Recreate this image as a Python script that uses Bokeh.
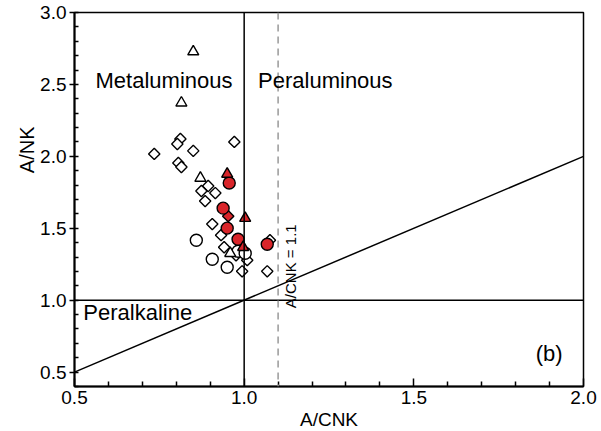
import math
from bokeh.plotting import figure
from bokeh.models import Span, FixedTicker, PrintfTickFormatter, Label, Title
from bokeh.embed import file_html
from bokeh.resources import INLINE

FONT = "Liberation Sans"

# Open diamonds
dia_x = [0.735, 0.812, 0.803, 0.850, 0.971, 0.806, 0.815, 0.894, 0.874, 0.915,
         0.885, 0.906, 0.932, 0.941, 0.976, 1.009, 0.994, 1.068, 1.076]
dia_y = [2.017, 2.121, 2.086, 2.038, 2.100, 1.954, 1.926, 1.794, 1.759, 1.745,
         1.689, 1.529, 1.452, 1.368, 1.312, 1.278, 1.201, 1.201, 1.417]
# Open circles
cir_x = [0.859, 0.906, 0.950, 0.982, 1.003]
cir_y = [1.417, 1.285, 1.229, 1.340, 1.326]
# Open triangles
tri_x = [0.850, 0.815, 0.871, 0.959]
tri_y = [2.728, 2.372, 1.849, 1.326]
# Filled (red) circles
rcir_x = [0.956, 0.938, 0.950, 0.982, 1.068]
rcir_y = [1.815, 1.640, 1.501, 1.424, 1.389]
# Filled (red) triangles
rtri_x = [0.950, 1.003, 0.997]
rtri_y = [1.877, 1.570, 1.368]
# Filled (red) diamond
rdia_x = [0.953]
rdia_y = [1.584]

x_ticks = [0.5, 1.0, 1.5, 2.0]
y_ticks = [0.5, 1.0, 1.5, 2.0, 2.5, 3.0]

RED = "#d9252a"

p = figure(width=601, height=431, x_range=(0.5, 2.0), y_range=(0.4, 3.0),
           output_backend="svg", toolbar_location=None,
           min_border_left=74, min_border_right=18, min_border_top=12,
           min_border_bottom=45)
p.grid.visible = False
p.outline_line_color = "black"
p.outline_line_width = 1.5
p.background_fill_color = "white"
p.border_fill_color = "white"

# Reference lines
p.line([0.5, 2.0], [0.5, 2.0], line_color="black", line_width=1.5)
p.add_layout(Span(location=1.0, dimension="height", line_color="black", line_width=1.5))
p.add_layout(Span(location=1.0, dimension="width", line_color="black", line_width=1.5))
p.add_layout(Span(location=1.1, dimension="height", line_color="#999999",
                  line_width=1.5, line_dash="7 5"))

# Data
p.scatter(dia_x, dia_y, marker="square", angle=math.pi / 4, size=8,
          fill_color="white", line_color="black", line_width=1.4)
p.scatter(cir_x, cir_y, marker="circle", size=12,
          fill_color="white", line_color="black", line_width=1.4)
p.scatter(tri_x, tri_y, marker="triangle", size=11,
          fill_color="white", line_color="black", line_width=1.4)
p.scatter(rdia_x, rdia_y, marker="square", angle=math.pi / 4, size=8,
          fill_color=RED, line_color="black", line_width=1.4)
p.scatter(rcir_x, rcir_y, marker="circle", size=12,
          fill_color=RED, line_color="black", line_width=1.4)
p.scatter(rtri_x, rtri_y, marker="triangle", size=11,
          fill_color=RED, line_color="black", line_width=1.4)

# Region labels
for txt, x, y in [("Metaluminous", 0.562, 2.527), ("Peraluminous", 1.041, 2.527),
                  ("Peralkaline", 0.526, 0.914), ("(b)", 1.859, 0.63)]:
    p.add_layout(Label(x=x, y=y, text=txt, text_font=FONT, text_font_size="22px",
                       text_baseline="middle", text_color="black"))
p.add_layout(Label(x=1.138, y=1.236, text="A/CNK = 1.1", text_font=FONT,
                   text_font_size="15px", angle=math.pi / 2, text_align="center",
                   text_baseline="middle", text_color="black"))

# Axis titles
p.add_layout(Title(text="A/CNK", align="center", text_font=FONT,
                   text_font_size="19px", text_font_style="normal",
                   text_color="black", standoff=0), "below")
p.add_layout(Title(text="A/NK", align="right", offset=114, text_font=FONT,
                   text_font_size="20px", text_font_style="normal",
                   text_color="black", standoff=0), "left")

# Axes
p.xaxis.ticker = FixedTicker(ticks=x_ticks, minor_ticks=[0.6, 0.7, 0.8, 0.9, 1.1, 1.2, 1.3, 1.4,
                                                         1.6, 1.7, 1.8, 1.9])
p.yaxis.ticker = FixedTicker(ticks=y_ticks,
                             minor_ticks=[round(0.4 + 0.1 * i, 1) for i in range(27)])
for ax in (p.xaxis, p.yaxis):
    ax.formatter = PrintfTickFormatter(format="%.1f")
    ax.axis_line_width = 2
    ax.major_tick_line_width = 1.5
    ax.minor_tick_line_width = 1.5
    ax.major_label_text_font = FONT
    ax.major_label_text_font_size = "19px"
    ax.major_label_text_color = "black"

p.xaxis.major_tick_in = 8
p.xaxis.major_tick_out = 0
p.xaxis.minor_tick_in = 5
p.xaxis.minor_tick_out = 0
p.xaxis.major_label_standoff = 4

p.yaxis.major_tick_in = 0
p.yaxis.major_tick_out = 5
p.yaxis.minor_tick_in = 4
p.yaxis.minor_tick_out = 0
p.yaxis.major_label_standoff = 3

open("out.html", "w").write(file_html(p, INLINE))
